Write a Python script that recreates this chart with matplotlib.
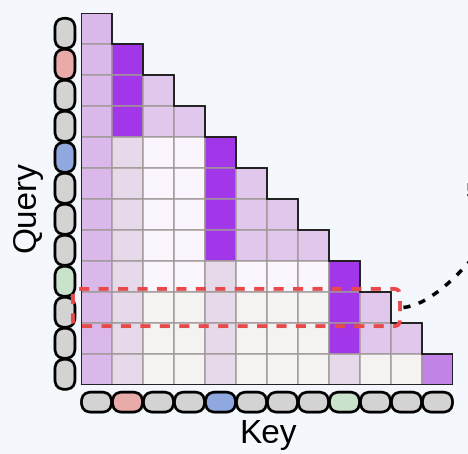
import numpy as np
import matplotlib.pyplot as plt
from matplotlib.colors import ListedColormap
from matplotlib.patches import FancyBboxPatch, Polygon, PathPatch
from matplotlib.path import Path

# attention level per cell (lower triangle, row = query, col = key)
# 0 gray, 1 near white, 2 pale, 3 light, 4 lilac, 5 mid purple, 6 strong
attention = [
    [4],
    [4, 6],
    [4, 6, 3],
    [4, 6, 3, 3],
    [4, 2, 1, 1, 6],
    [4, 2, 1, 1, 6, 3],
    [4, 2, 1, 1, 6, 3, 3],
    [4, 2, 1, 1, 6, 3, 3, 3],
    [4, 2, 1, 1, 2, 1, 1, 1, 6],
    [4, 2, 0, 0, 2, 0, 0, 0, 6, 3],
    [4, 2, 0, 0, 2, 0, 0, 0, 6, 3, 3],
    [4, 2, 0, 0, 2, 0, 0, 0, 2, 0, 0, 5],
]
level_colors = ["#f4f3f1", "#fbf6fe", "#e6d9ea", "#e0c7eb", "#dab9ea", "#c283e6", "#a236e9"]

tokens = ["gray", "red", "gray", "gray", "blue", "gray", "gray", "gray", "green", "gray", "gray", "gray"]
token_colors = {"gray": "#d3d3d3", "red": "#e9aaaa", "blue": "#8fa8e0", "green": "#c8e2cc"}

highlight_row = 9
bg = "#f4f7fc"

plt.rcParams['font.family'] = ['Liberation Sans', 'DejaVu Sans']

fig = plt.figure(figsize=(4.68, 4.54), dpi=100, facecolor=bg)
ax = fig.add_axes([81 / 468, 69 / 454, 372 / 468, 372 / 454])
n = len(attention)
ax.set_xlim(0, n)
ax.set_ylim(n, 0)
ax.axis('off')

grid = np.full((n, n), np.nan)
for r, row in enumerate(attention):
    grid[r, :len(row)] = row
ax.pcolor(np.ma.masked_invalid(grid), cmap=ListedColormap(level_colors),
          vmin=-0.5, vmax=len(level_colors) - 0.5,
          edgecolors="#a09898", linewidth=1.0)

# staircase outline
pts = [(0, n)]
for k in range(n):
    pts += [(k, k), (k + 1, k)]
pts += [(n, n)]
ax.add_patch(Polygon(pts, closed=True, fill=False, ec="#151515", lw=1.3, zorder=3))

# token pills
for i, tok in enumerate(tokens):
    c = token_colors[tok]
    ax.add_patch(FancyBboxPatch((-0.84, i + 0.17), 0.645, 0.97,
                                boxstyle="round,pad=0,rounding_size=0.32",
                                fc=c, ec="black", lw=2, clip_on=False, zorder=4))
    ax.add_patch(FancyBboxPatch((i + 0.015, 12.23), 0.97, 0.645,
                                boxstyle="round,pad=0,rounding_size=0.32",
                                fc=c, ec="black", lw=2, clip_on=False, zorder=4))

# highlighted query row
ax.add_patch(FancyBboxPatch((-0.26, highlight_row - 0.1), highlight_row + 1.55, 1.2,
                            boxstyle="round,pad=0,rounding_size=0.2",
                            fill=False, ec="#e84a4a", lw=2.8, ls=(0, (2.6, 2.4)),
                            clip_on=False, zorder=6))

# dashed connector going off to the right
curve = Path([(10.4, 9.5), (11.3, 9.42), (12.6, 7.95)],
             [Path.MOVETO, Path.CURVE3, Path.CURVE3])
ax.add_patch(PathPatch(curve, fill=False, ec="black", lw=2.6, ls=(0, (2.0, 2.4)),
                       clip_on=False, zorder=6))

ax.text(-1.75, 6.25, "Query", rotation=90, ha="center", va="center", fontsize=24)
ax.text(6.03, 13.87, "Key", ha="center", va="baseline", fontsize=24)
ax.text(12.39, 5.45, "5", ha="left", va="top", fontsize=16, clip_on=False)

fig.savefig("out.png", dpi=100, facecolor=bg)
